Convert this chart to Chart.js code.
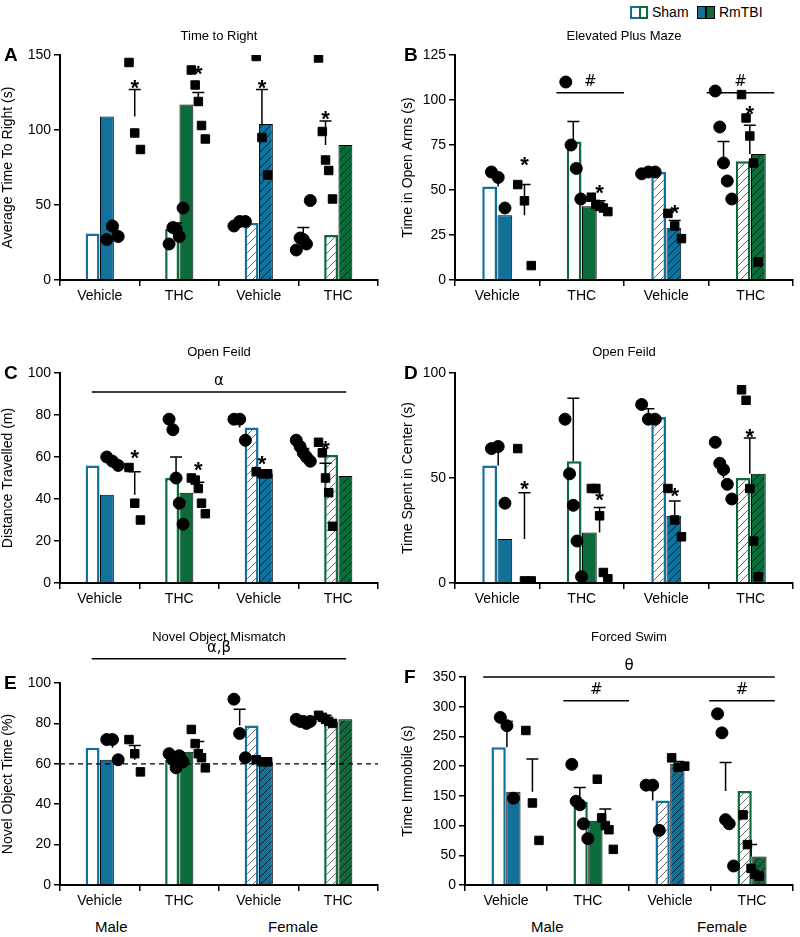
<!DOCTYPE html>
<html><head><meta charset="utf-8">
<script src="https://cdn.jsdelivr.net/npm/chart.js@4"></script>
<style>
body{margin:0;background:#fff;width:800px;height:937px;position:relative;overflow:hidden;font-family:"Liberation Sans",Arial,sans-serif}
canvas{position:absolute}
.lg{position:absolute;top:4px;font-size:14px;display:flex;align-items:center}
.bx{display:inline-block;width:9px;height:13px;margin-right:4px;box-sizing:border-box}
.sx{position:absolute;font-size:15px}
</style></head><body>
<div class="lg" style="left:630px"><span class="bx" style="border:2px solid #11719a;border-right:0"></span><span class="bx" style="border:2px solid #0b6b3b;margin-left:-4px;margin-right:4px"></span>Sham</div>
<div class="lg" style="left:697px"><span class="bx" style="background:#11719a;border:1px solid #000"></span><span class="bx" style="background:#0b6b3b;border:1px solid #000;margin-left:-4px;margin-right:4px"></span>RmTBI</div>
<div class="sx" style="left:95px;top:918px">Male</div>
<div class="sx" style="left:268px;top:918px">Female</div>
<div class="sx" style="left:531px;top:918px">Male</div>
<div class="sx" style="left:697px;top:918px">Female</div>
<script>
const categories=['Vehicle','THC','Vehicle','THC'];
// A Time to Right
const aShamMean=[31,34,38,30], aShamSem=[3,4,1,5], aTbiMean=[109,117,104,90], aTbiSem=[18,8,23,16];
const aShamPts=[[27,36,29],[24,35,34,29,48],[36,39,39],[20,28,27,24,53]];
const aTbiPts=[[145,98,87],[140,130,119,103,94],[149,95,70],[148,99,80,73,54]];
// B Elevated Plus Maze
const bShamMean=[52,77,60,66], bShamSem=[6,11,1,11], bTbiMean=[36,41,29,70], bTbiSem=[17,3,4,16];
const bShamPts=[[60,57,40],[110,75,62,45],[59,60,60],[105,85,65,55,45]];
const bTbiPts=[[53,44,8],[46,42,41,40,38],[37,30,23],[103,90,80,65,10]];
// C Open Field distance
const cShamMean=[56,50,74,61], cShamSem=[2,10,4,3], cTbiMean=[42,43,52,51], cTbiSem=[11,5,1,6];
const cShamPts=[[60,58,56],[78,73,50,38,28],[78,78,68],[68,65,62,60,58]];
const cTbiPts=[[55,38,30],[50,49,45,38,33],[53,52,52],[67,62,50,43,27]];
// D Open Field center
const dShamMean=[56,58,79,50], dShamSem=[9,30,4,3], dTbiMean=[21,24,32,52], dTbiSem=[22,12,7,17];
const dShamPts=[[64,65,38],[78,52,37,20,3],[85,78,78],[67,57,54,47,40]];
const dTbiPts=[[64,1,1],[45,45,32,5,2],[45,30,22],[92,87,45,20,3]];
// E Novel Object
const eShamMean=[68,62,79,81], eShamSem=[4,4,8,1], eTbiMean=[62,66,61,82], eTbiSem=[7,5,1,2];
const eShamPts=[[72,72,62],[65,62,58,64,61],[92,75,63],[82,81,81,80,81]];
const eTbiPts=[[72,65,56],[77,70,65,63,58],[62,61,61],[84,83,82,81,80]];
// F Forced Swim
const fShamMean=[232,140,142,158], fShamSem=[43,24,25,48], fTbiMean=[157,108,204,48], fTbiSem=[55,20,4,20];
const fShamPts=[[282,268,146],[203,141,135,103,78],[168,168,92],[288,256,110,103,32]];
const fTbiPts=[[260,138,75],[178,113,100,93,60],[214,198,200],[118,68,28,18,15]];

const BLUE='#11719a', GREEN='#0b6b3b';
function hatch(bg,line){const c=document.createElement('canvas');c.width=8;c.height=8;const x=c.getContext('2d');
 x.fillStyle=bg;x.fillRect(0,0,8,8);x.strokeStyle=line;x.lineWidth=0.8;x.beginPath();
 x.moveTo(0,8);x.lineTo(8,0);x.moveTo(-2,2);x.lineTo(2,-2);x.moveTo(6,10);x.lineTo(10,6);x.stroke();
 return x.createPattern(c,'repeat');}
const shamFill=['#fff','#fff',hatch('#fff','#444'),hatch('#fff','#444')];
const tbiFill=[BLUE,GREEN,hatch(BLUE,'#111'),hatch(GREEN,'#111')];
const ringCol=[BLUE,GREEN,BLUE,GREEN];
const OFFS={3:[-0.09,0,0.09],4:[-0.1,-0.03,0.04,0.1],5:[-0.11,-0.05,0,0.05,0.11]};
function pts(arr,side){return arr.flatMap((a,i)=>a.map((v,j)=>({x:i+side+OFFS[a.length][j],y:v})));}

function panel(cfg){
 const cv=document.createElement('canvas');
 cv.width=cfg.w;cv.height=cfg.h;
 cv.style.left=cfg.cx+'px';cv.style.top=cfg.cy+'px';cv.style.width=cfg.w+'px';cv.style.height=cfg.h+'px';
 document.body.appendChild(cv);
 const errPlug={id:'err',afterDatasetDraw(ch,args){ if(args.index!==2)return;
   const c=ch.ctx, xs=ch.scales.xp, ys=ch.scales.y;
   c.save();c.strokeStyle='#000';c.lineWidth=1.5;
   [[cfg.sm,cfg.ss,-0.175],[cfg.tm,cfg.ts,0.175]].forEach(([m,s,o])=>m.forEach((v,i)=>{
     const x=xs.getPixelForValue(i+o),y0=ys.getPixelForValue(v),y1=ys.getPixelForValue(v+s[i]);
     c.beginPath();c.moveTo(x,y0);c.lineTo(x,y1);c.moveTo(x-6,y1);c.lineTo(x+6,y1);c.stroke();}));
   c.restore();}};
 const annPlug={id:'ann',afterDraw(ch){
   const c=ch.ctx,xs=ch.scales.xp,ys=ch.scales.y,ca=ch.chartArea;
   c.save();c.fillStyle='#000';c.textAlign='center';
   c.font='13px "Liberation Sans",Arial';c.textBaseline='alphabetic';
   c.fillText(cfg.title,(ca.left+ca.right)/2,cfg.titleY-cfg.cy);
   c.font='bold 19px "Liberation Sans",Arial';c.textAlign='left';
   c.fillText(cfg.letter,4,ca.top+6);
   c.textAlign='center';
   c.font='bold 22px "Liberation Sans",Arial';
   (cfg.stars||[]).forEach(([i,v])=>c.fillText('*',xs.getPixelForValue(i+0.175),ys.getPixelForValue(v)+14));
   c.strokeStyle='#000';c.lineWidth=1.5;
   (cfg.lines||[]).forEach(([a,b,v,t])=>{const y=ys.getPixelForValue(v);
     c.beginPath();c.moveTo(xs.getPixelForValue(a),y);c.lineTo(xs.getPixelForValue(b),y);c.stroke();
     c.font='15px "DejaVu Sans",sans-serif';c.fillText(t,(xs.getPixelForValue(a)+xs.getPixelForValue(b))/2,y-7);});
   if(cfg.dash!==undefined){const y=ys.getPixelForValue(cfg.dash);c.setLineDash([5,4]);c.lineWidth=1.2;
     c.beginPath();c.moveTo(ca.left,y);c.lineTo(ca.right,y);c.stroke();}
   c.restore();}};
 new Chart(cv,{type:'bar',
  data:{labels:categories,datasets:[
   {type:'scatter',xAxisID:'xp',data:pts(cfg.sp,-0.175),pointStyle:'circle',radius:6,backgroundColor:'#000',borderColor:'#000'},
   {type:'scatter',xAxisID:'xp',data:pts(cfg.tp,0.175),pointStyle:'rect',radius:6,backgroundColor:'#000',borderColor:'#000'},
   {label:'Sham',data:cfg.sm,backgroundColor:shamFill,borderColor:ringCol,borderWidth:2.5,categoryPercentage:0.72,barPercentage:0.97},
   {label:'RmTBI',data:cfg.tm,backgroundColor:tbiFill,borderColor:'#000',borderWidth:1,categoryPercentage:0.72,barPercentage:0.97}]},
  options:{responsive:false,animation:false,devicePixelRatio:1,
   layout:{padding:{top:cfg.T-cfg.cy,right:cfg.cx+cfg.w-cfg.R,left:0,bottom:0}},
   plugins:{legend:{display:false},tooltip:{enabled:false}},
   scales:{
    x:{grid:{display:true,drawOnChartArea:false,color:'#000',tickLength:6,lineWidth:1.5},border:{color:'#000',width:2},
       ticks:{color:'#000',font:{size:14,family:'"Liberation Sans",Arial'},padding:2},
       afterFit:s=>{s.height=cfg.cy+cfg.h-cfg.B;}},
    xp:{type:'linear',display:false,min:-0.5,max:3.5},
    y:{min:0,max:cfg.max,ticks:{stepSize:cfg.step,color:'#000',font:{size:14,family:'"Liberation Sans",Arial'},padding:3},
       grid:{display:true,drawOnChartArea:false,color:'#000',tickLength:6,lineWidth:1.5},border:{color:'#000',width:2},
       title:{display:true,text:cfg.ytitle,color:'#000',font:{size:14,family:'"Liberation Sans",Arial'},padding:0},
       afterFit:s=>{s.width=cfg.L-cfg.cx;}}}},
  plugins:[errPlug,annPlug]});
}
panel({cx:0,cy:20,w:400,h:290,L:60,T:55,R:378,B:280,max:150,step:50,title:'Time to Right',titleY:40,letter:'A',ytitle:'Average Time To Right (s)',
 sm:aShamMean,ss:aShamSem,tm:aTbiMean,ts:aTbiSem,sp:aShamPts,tp:aTbiPts,stars:[[0,133],[1,142],[2,133],[3,112]]});
panel({cx:400,cy:20,w:400,h:290,L:455,T:55,R:795,B:280,max:125,step:25,title:'Elevated Plus Maze',titleY:40,letter:'B',ytitle:'Time in Open Arms (s)',
 sm:bShamMean,ss:bShamSem,tm:bTbiMean,ts:bTbiSem,sp:bShamPts,tp:bTbiPts,stars:[[0,68],[1,52],[2,41],[3,96]],lines:[[0.6,1.5,104,'#'],[2.6,3.5,104,'#']]});
panel({cx:0,cy:330,w:400,h:280,L:60,T:373,R:378,B:583,max:100,step:20,title:'Open Feild',titleY:356,letter:'C',ytitle:'Distance Travelled (m)',
 sm:cShamMean,ss:cShamSem,tm:cTbiMean,ts:cTbiSem,sp:cShamPts,tp:cTbiPts,stars:[[0,63],[1,57],[2,60],[3,67]],lines:[[-0.5,3.5,91,'α']]});
panel({cx:400,cy:330,w:400,h:280,L:455,T:373,R:795,B:583,max:100,step:50,title:'Open Feild',titleY:356,letter:'D',ytitle:'Time Spent in Center (s)',
 sm:dShamMean,ss:dShamSem,tm:dTbiMean,ts:dTbiSem,sp:dShamPts,tp:dTbiPts,stars:[[0,48],[1,43],[2,45],[3,73]]});
panel({cx:0,cy:625,w:400,h:290,L:60,T:683,R:378,B:885,max:100,step:20,title:'Novel Object Mismatch',titleY:641,letter:'E',ytitle:'Novel Object Time (%)',
 sm:eShamMean,ss:eShamSem,tm:eTbiMean,ts:eTbiSem,sp:eShamPts,tp:eTbiPts,lines:[[-0.5,3.5,112,'α,β']],dash:60});
panel({cx:400,cy:625,w:400,h:290,L:465,T:677,R:795,B:885,max:350,step:50,title:'Forced Swim',titleY:641,letter:'F',ytitle:'Time Immobile (s)',
 sm:fShamMean,ss:fShamSem,tm:fTbiMean,ts:fTbiSem,sp:fShamPts,tp:fTbiPts,lines:[[-0.5,3.5,350,'θ'],[0.6,1.5,310,'#'],[2.6,3.5,310,'#']]});
</script></body></html>
